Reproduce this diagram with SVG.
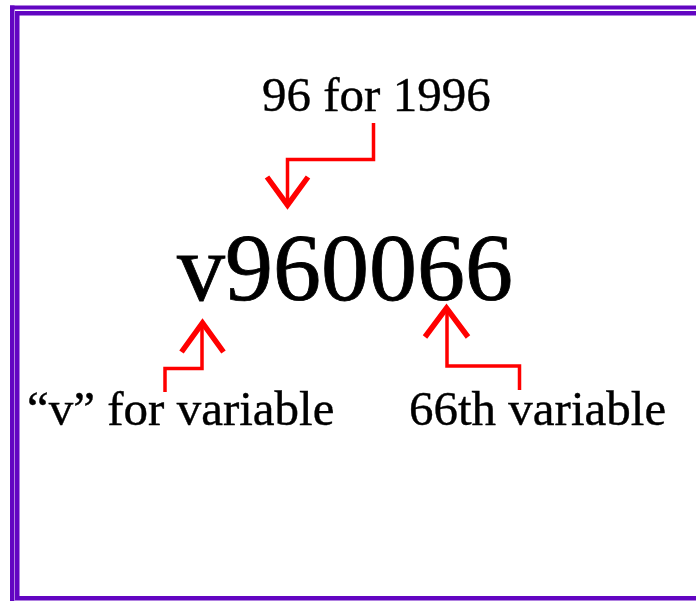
<svg xmlns="http://www.w3.org/2000/svg" width="696" height="601" viewBox="0 0 696 601">
<style>
.frame{fill:#6205C2}
.t{font-family:"Liberation Serif","Times New Roman",serif;fill:#000;stroke:#000}
.lbl{font-size:49px;stroke-width:0.4}
.code{font-size:96px;stroke-width:0.8}
.conn{fill:none;stroke:#FF0000;stroke-width:3.5;stroke-linejoin:miter;stroke-linecap:butt}
.head{fill:none;stroke:#FF0000;stroke-width:5.5;stroke-linejoin:miter;stroke-miterlimit:10}
</style>
<rect width="696" height="601" fill="#fff"/>
<g id="frame">
<rect class="frame" x="10" y="5.5" width="686" height="4"/>
<rect class="frame" x="10" y="5.5" width="4.5" height="595.5"/>
<rect class="frame" x="15" y="11" width="681" height="4.5"/>
<rect class="frame" x="15" y="11" width="4.5" height="589"/>
<rect class="frame" x="15" y="596" width="681" height="4.5"/>
</g>
<g id="connectors">
<polyline class="conn" points="373.5,123 373.5,159.5 287.5,159.5 287.5,204"/>
<polyline class="head" points="267,177 287.5,205 308,177"/>
<polyline class="conn" points="165,392 165,368.5 202,368.5 202,324"/>
<polyline class="head" points="181.5,352 202.5,323 223.5,352"/>
<polyline class="conn" points="519.5,390 519.5,366 447,366 447,309"/>
<polyline class="head" points="425,337 446.5,308 468,337"/>
</g>
<g id="year-label"><text class="t lbl" x="262" y="111">96 for 1996</text></g>
<g id="code"><text class="t code" x="177" y="300">v960066</text></g>
<g id="v-label"><text class="t lbl" x="27" y="425">“v” for variable</text></g>
<g id="number-label"><text class="t lbl" x="409" y="425">66th variable</text></g>
</svg>
